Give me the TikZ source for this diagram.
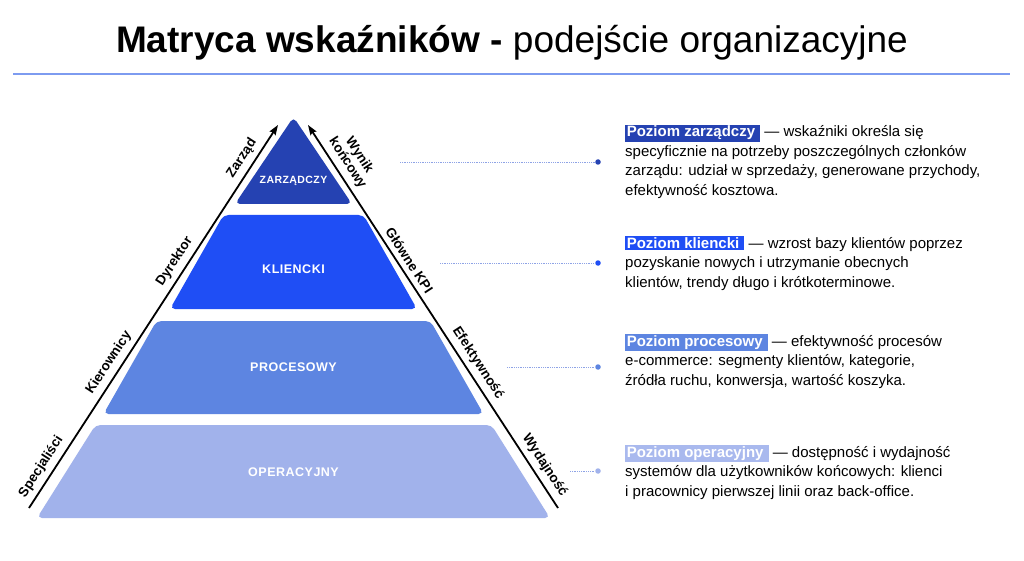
\documentclass[tikz,border=0pt]{standalone}
\usepackage{fontspec}
\setmainfont{Liberation Sans}
\usetikzlibrary{arrows.meta,calc}
\definecolor{tA}{HTML}{2542B2}
\definecolor{tB}{HTML}{1F4EF5}
\definecolor{tC}{HTML}{5D85E1}
\definecolor{tD}{HTML}{A1B2EB}
\definecolor{hD}{HTML}{A9B9EE}
\definecolor{rulec}{HTML}{7D9BF0}
\definecolor{dotl}{HTML}{8EA3E6}
\newcommand{\hlbox}[2]{{\setlength{\fboxsep}{1.6pt}\colorbox{#1}{\textcolor{white}{\bfseries #2}\hspace{3.5pt}}}}
\tikzset{
  tier/.style={rounded corners=5pt},
  tierlbl/.style={text=white, font=\fontsize{12.5}{14}\selectfont\bfseries\addfontfeatures{LetterSpace=4}},
  arr/.style={line width=1.8pt, -{Stealth[length=10pt,width=7pt,inset=1.5pt]}},
  arrl/.style={line width=1.8pt, {Stealth[length=10pt,width=7pt,inset=1.5pt]}-},
  lbl/.style={sloped, anchor=south, inner xsep=0pt, inner ysep=5pt, align=center,
              font=\fontsize{13.5}{14}\selectfont\bfseries},
  dotn/.style={circle, inner sep=0pt, minimum size=5.5pt},
  dotline/.style={dotl, line width=0.9pt, dash pattern=on 0.9pt off 0.9pt},
  txt/.style={anchor=base west, inner sep=0pt, align=left, font=\fontsize{15}{19.5}\selectfont}
}
\begin{document}
\begin{tikzpicture}[x=1pt,y=-1pt]
\useasboundingbox (0,0) rectangle (1024,561);
\fill[white] (0,0) rectangle (1024,561);

% title
\node[anchor=base, inner sep=0pt, font=\fontsize{37}{42}\selectfont] (title) at (512,53)
  {\textbf{Matryca wskaźników -} podejście organizacyjne};
\coordinate (r0) at (13,74.5);
\coordinate (r1) at (1010,74.5);
\draw[rulec, line width=2pt] (r0) -- (r1);

% pyramid tiers
\fill[tA, tier] (293.5,117) -- (352,204) -- (235,204) -- cycle;
\fill[tB, tier] (223.5,215) -- (363.5,215) -- (417,309) -- (170,309) -- cycle;
\fill[tC, tier] (156.5,321) -- (430.5,321) -- (483.5,414) -- (103.5,414) -- cycle;
\fill[tD, tier] (95.5,425) -- (491.5,425) -- (550,518) -- (37,518) -- cycle;

\node[tierlbl, font=\fontsize{10.5}{12}\selectfont\bfseries\addfontfeatures{LetterSpace=4}] (n1) at (293.5,181) {ZARZĄDCZY};
\node[tierlbl] (n2) at (293.5,269) {KLIENCKI};
\node[tierlbl] (n3) at (293.5,367) {PROCESOWY};
\node[tierlbl] (n4) at (293.5,472) {OPERACYJNY};

% arrows
\coordinate (L0) at (29,508);
\coordinate (L1) at (278,125);
\draw[arr] (L0) -- (L1)
  node[lbl, pos=0.09] (la) {Specjaliści}
  node[lbl, pos=0.362] (lb) {Kierownicy}
  node[lbl, pos=0.626] (lc) {Dyrektor}
  node[lbl, pos=0.896] (ld) {Zarząd};
\coordinate (R1) at (308,125);
\coordinate (R0) at (558,508);
\draw[arrl] (R1) -- (R0)
  node[lbl, pos=0.117] (ra) {Wynik\\końcowy}
  node[lbl, pos=0.369] (rb) {Główne KPI}
  node[lbl, pos=0.639] (rc) {Efektywność}
  node[lbl, pos=0.906] (rd) {Wydajność};

% connectors
\coordinate (c1) at (400,162);
\coordinate (c2) at (440,263);
\coordinate (c3) at (507,367);
\coordinate (c4) at (570,471);
\node[dotn, fill=tA] (d1) at (598,162) {};
\node[dotn, fill=tB] (d2) at (598,263) {};
\node[dotn, fill=tC] (d3) at (598,367) {};
\node[dotn, fill=tD] (d4) at (598,471) {};
\draw[dotline] (c1) -- (d1);
\draw[dotline] (c2) -- (d2);
\draw[dotline] (c3) -- (d3);
\draw[dotline] (c4) -- (d4);

% text blocks (base anchor = last line baseline)
\node[txt] (b1) at (625,195.5) {\hlbox{tA}{Poziom zarządczy} — wskaźniki określa się\\
specyficznie na potrzeby poszczególnych członków\\
zarządu: udział w sprzedaży, generowane przychody,\\
efektywność kosztowa.};
\node[txt] (b2) at (625,287) {\hlbox{tB}{Poziom kliencki} — wzrost bazy klientów poprzez\\
pozyskanie nowych i utrzymanie obecnych\\
klientów, trendy długo i krótkoterminowe.};
\node[txt] (b3) at (625,385) {\hlbox{tC}{Poziom procesowy} — efektywność procesów\\
e-commerce: segmenty klientów, kategorie,\\
źródła ruchu, konwersja, wartość koszyka.};
\node[txt] (b4) at (625,496) {\hlbox{hD}{Poziom operacyjny} — dostępność i wydajność\\
systemów dla użytkowników końcowych: klienci\\
i pracownicy pierwszej linii oraz back-office.};
\end{tikzpicture}
\end{document}
